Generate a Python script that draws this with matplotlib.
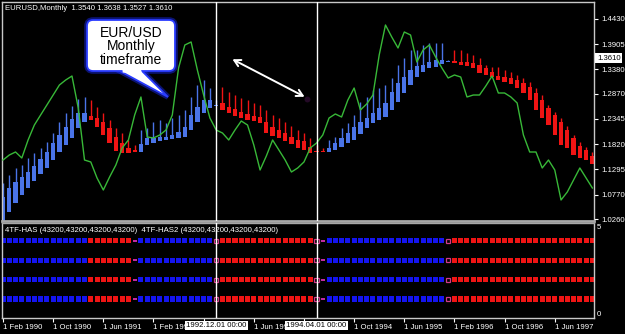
import matplotlib
matplotlib.use("Agg")
import matplotlib.pyplot as plt
import matplotlib.font_manager as fm
from matplotlib.patches import FancyBboxPatch, Polygon, Rectangle
import numpy as np

# ---------------- data ----------------
ha_open = [1.0135, 1.0406, 1.0593, 1.0760, 1.0906, 1.1052, 1.1198, 1.1323, 1.1489, 1.1656,
           1.1802, 1.1948, 1.2156, 1.2281, 1.2406, 1.2364, 1.2281, 1.2156, 1.1968, 1.1843,
           1.1739, 1.1698, 1.1656, 1.1802, 1.1843, 1.1885, 1.1906, 1.1927, 1.1948, 1.1968,
           1.2114, 1.2281, 1.2468, 1.2573, 1.2614, 1.2677, 1.2593, 1.2552, 1.2489, 1.2448,
           1.2406, 1.2385, 1.2281, 1.2177, 1.2114, 1.2052, 1.1968, 1.1906, 1.1885, 1.1760,
           1.1677, 1.1677, 1.1656, 1.1698, 1.1760, 1.1843, 1.1906, 1.2031, 1.2156, 1.2260,
           1.2323, 1.2385, 1.2531, 1.2698, 1.2885, 1.3052, 1.3218, 1.3323, 1.3406, 1.3427,
           1.3489, 1.3531, 1.3552, 1.3531, 1.3531, 1.3510, 1.3468, 1.3406, 1.3323, 1.3239,
           1.3218, 1.3198, 1.3156, 1.3093, 1.3010, 1.2885, 1.2739, 1.2573, 1.2427, 1.2281,
           1.2114, 1.1948, 1.1781, 1.1698, 1.1573]
ha_close = [1.0718, 1.0906, 1.1031, 1.1135, 1.1239, 1.1364, 1.1510, 1.1656, 1.1843, 1.2010,
            1.2177, 1.2343, 1.2468, 1.2468, 1.2323, 1.2177, 1.2010, 1.1843, 1.1677, 1.1635,
            1.1635, 1.1656, 1.1823, 1.1948, 1.1948, 1.1968, 1.1968, 1.2010, 1.2073, 1.2177,
            1.2427, 1.2593, 1.2739, 1.2739, 1.2635, 1.2531, 1.2468, 1.2406, 1.2364, 1.2323,
            1.2302, 1.2260, 1.2052, 1.1989, 1.1948, 1.1885, 1.1823, 1.1739, 1.1698, 1.1635,
            1.1656, 1.1656, 1.1739, 1.1843, 1.1948, 1.2052, 1.2177, 1.2281, 1.2364, 1.2468,
            1.2573, 1.2677, 1.2906, 1.3093, 1.3218, 1.3364, 1.3448, 1.3468, 1.3531, 1.3573,
            1.3573, 1.3552, 1.3510, 1.3468, 1.3448, 1.3406, 1.3302, 1.3260, 1.3218, 1.3156,
            1.3114, 1.3073, 1.2989, 1.2885, 1.2739, 1.2531, 1.2364, 1.2218, 1.2010, 1.1802,
            1.1739, 1.1593, 1.1531, 1.1489, 1.1406]
ha_high = [1.1010, 1.1177, 1.1323, 1.1385, 1.1531, 1.1635, 1.1739, 1.1864, 1.2052, 1.2281,
           1.2468, 1.2614, 1.2760, 1.2802, 1.2739, 1.2593, 1.2468, 1.2323, 1.2156, 1.2052,
           1.1906, 1.1802, 1.2114, 1.2156, 1.2281, 1.2323, 1.2260, 1.2364, 1.2427, 1.2531,
           1.2802, 1.3052, 1.3156, 1.2989, 1.2739, 1.3010, 1.2906, 1.2843, 1.2781, 1.2739,
           1.2677, 1.2635, 1.2531, 1.2427, 1.2364, 1.2281, 1.2198, 1.2114, 1.2052, 1.1948,
           1.1802, 1.1739, 1.1906, 1.1968, 1.2156, 1.2260, 1.2427, 1.2698, 1.2802, 1.2948,
           1.2989, 1.3052, 1.3198, 1.3468, 1.3614, 1.3781, 1.3781, 1.3885, 1.3927, 1.3927,
           1.3927, 1.3573, 1.3781, 1.3781, 1.3718, 1.3677, 1.3614, 1.3468, 1.3427, 1.3427,
           1.3364, 1.3323, 1.3260, 1.3198, 1.3114, 1.2989, 1.2843, 1.2635, 1.2489, 1.2364,
           1.2198, 1.2010, 1.1864, 1.1760, 1.1656]
price_line = [1.1489, 1.1593, 1.1656, 1.1531, 1.1906, 1.2218, 1.2427, 1.2635, 1.2843, 1.3052,
              1.3156, 1.3239, 1.2573, 1.1489, 1.1448, 1.1114, 1.0864, 1.1135, 1.1385, 1.1739,
              1.1906, 1.2427, 1.2802, 1.1968, 1.1948, 1.2010, 1.2114, 1.2427, 1.3406, 1.3885,
              1.3948, 1.3364, 1.2843, 1.2364, 1.2114, 1.2052, 1.1906, 1.2114, 1.2302, 1.2218,
              1.1802, 1.1281, 1.1573, 1.1906, 1.1698, 1.1489, 1.1239, 1.1323, 1.1448, 1.1739,
              1.1843, 1.2010, 1.2364, 1.2448, 1.2385, 1.2739, 1.2989, 1.2531, 1.2656, 1.2843,
              1.3677, 1.4302, 1.4052, 1.3823, 1.4156, 1.4093, 1.3531, 1.3781, 1.3885, 1.3635,
              1.3406, 1.3198, 1.3260, 1.3218, 1.2802, 1.2843, 1.2843, 1.3031, 1.3239, 1.2885,
              1.2885, 1.2802, 1.2677, 1.2010, 1.1656, 1.1656, 1.1323, 1.1489, 1.1281, 1.0656,
              1.0823, 1.1073, 1.1323, 1.1114, 1.0906]
# indicator state per bar: u = up (blue), d = down (red), o = hollow transition, x = dash transition
has_state = list("uuuuuuuuuuuuuu" "ddddddd" "x" "uuuuuuuuuuuu" "o" "ddddddddddddddd"
                 "o" "x" "uuuuuuuuuuuuuuuuuuu" "o" "ddddddddddddddddddddddd")
has_rows = [4, 3, 2, 1]

# date axis: ticks every 8 months; labels hidden by the marker boxes are left empty,
# the two partly covered labels show only their visible part
month_label_bars = [0, 8, 16, 24, 32, 40, 48, 56, 64, 72, 80, 88]
month_labels = ["1 Feb 1990", "1 Oct 1990", "1 Jun 1991", "1 Feb 199", "",
                "1 Jun 199", "", "1 Oct 1994", "1 Jun 1995", "1 Feb 1996",
                "1 Oct 1996", "1 Jun 1997"]
price_ticks = [1.4430, 1.3905, 1.3380, 1.2870, 1.2345, 1.1820, 1.1295, 1.0770, 1.0260]
marker_bars = [34, 50]
marker_labels = ["1992.12.01 00:00", "1994.04.01 00:00"]
header_text = "EURUSD,Monthly  1.3540 1.3638 1.3527 1.3610"
last_price = 1.3610
indicator_text = "4TF-HAS (43200,43200,43200,43200)  4TF-HAS2 (43200,43200,43200,43200)"
callout_lines = ["EUR/USD", "Monthly", "timeframe"]

# ---------------- style ----------------
names = {f.name for f in fm.fontManager.ttflist}
if "Liberation Sans Narrow" in names:
    SMALL = "Liberation Sans Narrow"; SFS = 6.0
else:
    SMALL = "Liberation Sans"; SFS = 5.6
plt.rcParams["font.family"] = ["Liberation Sans", "DejaVu Sans"]

BLUE_C = "#4a74e8"
RED_C = "#f01414"
GREEN = "#38b838"
SQ_BLUE = "#1414f0"
SQ_RED = "#f01414"
FRAME = "#c8c8c8"

W, H = 625, 334
fig = plt.figure(figsize=(W / 100, H / 100), dpi=100, facecolor="black")

x = np.arange(len(ha_open))
xmin = -0.16
xmax = xmin + 592 / 6.27

ax1 = fig.add_axes([2 / W, 1 - 221 / H, 592 / W, 219 / H], facecolor="black")
ax2 = fig.add_axes([2 / W, 1 - 318 / H, 592 / W, 95 / H], facecolor="black")

# ---------- top panel ----------
o = np.array(ha_open); c = np.array(ha_close); h = np.array(ha_high)
up = c >= o
cols = np.where(up, BLUE_C, RED_C)
top = np.maximum(o, c)
ax1.vlines(x, top, h, colors=cols, lw=1.0, zorder=2)
ax1.bar(x, c - o, bottom=o, width=0.68, color=cols, linewidth=0, zorder=2)
ax1.plot(x, price_line, color=GREEN, lw=1.0, zorder=3)
ax1.set_xlim(xmin, xmax)
ax1.set_ylim(1.48225 - 221 / 480, 1.48225 - 2 / 480)
ax1.yaxis.tick_right()
ax1.set_yticks(price_ticks)
ax1.set_yticklabels([f"{v:.4f}" for v in price_ticks], fontfamily=SMALL, fontsize=SFS, color="white")
ax1.tick_params(axis="y", colors="white", length=3, width=0.8, pad=2)
ax1.set_xticks([])
for s in ax1.spines.values():
    s.set_color(FRAME); s.set_linewidth(1.0)
ax1.spines["bottom"].set_linewidth(2.0)
ax1.spines["bottom"].set_color("#a8a8a8")
for b in marker_bars:
    ax1.axvline(b, color="white", lw=1.0, zorder=4)

# current price box
ax1.text(1.0 + 3 / 592, last_price, f"{last_price:.4f}", transform=ax1.get_yaxis_transform(),
         ha="left", va="center", fontfamily=SMALL, fontsize=SFS, color="black",
         bbox=dict(boxstyle="square,pad=0.2", fc="white", ec="none"), zorder=10, clip_on=False)

# ---------- bottom panel ----------
for i, st in enumerate(has_state):
    for r in has_rows:
        if st == "u":
            ax2.add_patch(Rectangle((i - 0.4, r - 0.13), 0.8, 0.26, fc=SQ_BLUE, ec="none"))
        elif st == "d":
            ax2.add_patch(Rectangle((i - 0.4, r - 0.13), 0.8, 0.26, fc=SQ_RED, ec="none"))
        elif st == "o":
            ax2.add_patch(Rectangle((i - 0.33, r - 0.1), 0.66, 0.2, fc="black", ec="#d03a8a", lw=0.9))
        else:
            ax2.add_patch(Rectangle((i - 0.3, r - 0.05), 0.6, 0.1, fc="#c02aa0", ec="none"))
ax2.set_xlim(xmin, xmax)
ax2.set_ylim(0.017, 4.93)
ax2.set_yticks([])
ax2.set_xticks(month_label_bars)
ax2.set_xticklabels(month_labels, fontfamily=SMALL, fontsize=SFS, color="white", ha="left")
ax2.tick_params(axis="x", colors="white", length=3, width=0.8, pad=1)
for s in ax2.spines.values():
    s.set_color(FRAME); s.set_linewidth(1.0)
ax2.spines["top"].set_color("#a8a8a8")
for b in marker_bars:
    ax2.axvline(b, color="white", lw=1.0, zorder=4)
for b, lab in zip(marker_bars, marker_labels):
    ax2.text(b, -0.04, lab, transform=ax2.get_xaxis_transform(), ha="center", va="top",
             fontfamily=SMALL, fontsize=SFS, color="black",
             bbox=dict(boxstyle="square,pad=0.15", fc="white", ec="none"), zorder=10, clip_on=False)
ax2.text(1.0 + 3 / 592, 0.95, "5", transform=ax2.transAxes, ha="left", va="center",
         fontfamily=SMALL, fontsize=SFS, color="white", clip_on=False)
ax2.text(1.0 + 3 / 592, 0.04, "0", transform=ax2.transAxes, ha="left", va="center",
         fontfamily=SMALL, fontsize=SFS, color="white", clip_on=False)

# ---------- overlay (annotations in pixel space) ----------
ov = fig.add_axes([0, 0, 1, 1], facecolor="none")
ov.set_xlim(0, W); ov.set_ylim(H, 0); ov.axis("off")

ov.text(5, 8.5, header_text, ha="left", va="center", fontfamily=SMALL, fontsize=SFS, color="white")
ov.text(5, 231, indicator_text, ha="left", va="center", fontfamily=SMALL, fontsize=SFS, color="white")

# callout bubble
tail = [(118, 70), (141, 70), (168, 97)]
glow_kw = dict(fc="none", ec="#1a2cff", lw=4.0, alpha=0.45)
ov.add_patch(Polygon(tail, closed=True, **glow_kw))
ov.add_patch(FancyBboxPatch((87, 20), 88, 51, boxstyle="round,pad=0,rounding_size=6", **glow_kw))
ov.add_patch(Polygon(tail, closed=True, fc="white", ec="#2a3cff", lw=1.3))
ov.add_patch(FancyBboxPatch((87, 20), 88, 51, boxstyle="round,pad=0,rounding_size=6",
                            fc="white", ec="#2a3cff", lw=1.3))
ov.add_patch(Polygon([(122, 67), (140, 67), (142, 72.6), (122.8, 72.6)], closed=True, fc="white", ec="none"))
for k, line in enumerate(callout_lines):
    ov.text(131, 33 + 13.3 * k, line, ha="center", va="center", fontsize=10, color="black")

# double arrow
ov.scatter([307], [99], s=18, color="#b030c0", alpha=0.2, linewidths=0)
ov.annotate("", xy=(307, 98), xytext=(230, 58),
            arrowprops=dict(arrowstyle="<->,head_length=0.45,head_width=0.25", color="white", lw=1.4))

fig.savefig("out.png", dpi=100, facecolor="black")
